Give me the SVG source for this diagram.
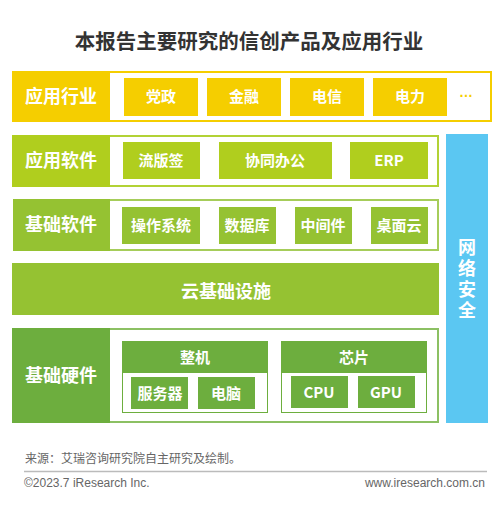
<svg xmlns="http://www.w3.org/2000/svg" width="500" height="521" viewBox="0 0 500 521">
<style>
text{font-family:"Noto Sans CJK SC","Liberation Sans",sans-serif;font-weight:bold;fill:#fff;text-anchor:middle}
.lbl{font-size:18px}
.it{font-size:15px}
.vt{font-size:18px;writing-mode:vertical-rl;text-anchor:start;letter-spacing:3px}
.foot{font-weight:normal;fill:#666;font-size:12px;text-anchor:start}
</style>
<rect width="500" height="521" fill="#fff"/>
<text x="249" y="49" style="font-size:20.5px;fill:#333">本报告主要研究的信创产品及应用行业</text>

<g id="row-industry">
<rect x="13" y="72" width="478" height="49" fill="#fff" stroke="#F5CE00" stroke-width="2"/>
<rect x="12" y="71" width="98" height="51" fill="#F5CE00"/>
<text class="lbl" x="61" y="103">应用行业</text>
<rect x="124" y="78" width="74" height="38" fill="#F5CE00"/><text class="it" x="161" y="102">党政</text>
<rect x="207" y="78" width="74" height="38" fill="#F5CE00"/><text class="it" x="244" y="102">金融</text>
<rect x="290" y="78" width="74" height="38" fill="#F5CE00"/><text class="it" x="327" y="102">电信</text>
<rect x="373" y="78" width="74" height="38" fill="#F5CE00"/><text class="it" x="410" y="102">电力</text>
<text x="466" y="97" style="font-family:'Liberation Sans',sans-serif;font-size:14px;fill:#F5CE00">…</text>
</g>

<g id="row-appsoft">
<rect x="13" y="136" width="425" height="50" fill="#fff" stroke="#B2D235" stroke-width="2"/>
<rect x="12" y="135" width="98" height="52" fill="#B0CE1E"/>
<text class="lbl" x="61" y="167">应用软件</text>
<rect x="123" y="142" width="77" height="37" fill="#B0CE1E"/><text class="it" x="161" y="166">流版签</text>
<rect x="219" y="142" width="113" height="37" fill="#B0CE1E"/><text class="it" x="275" y="166">协同办公</text>
<rect x="350" y="142" width="78" height="37" fill="#B0CE1E"/><text class="it" x="389" y="166">ERP</text>
</g>

<g id="row-basesoft">
<rect x="14" y="200" width="424" height="50" fill="#fff" stroke="#A6CD5A" stroke-width="2"/>
<rect x="13" y="199" width="97" height="52" fill="#95C232"/>
<text class="lbl" x="61" y="231">基础软件</text>
<rect x="122" y="207" width="78" height="37" fill="#95C232"/><text class="it" x="161" y="231">操作系统</text>
<rect x="219" y="207" width="57" height="37" fill="#95C232"/><text class="it" x="247" y="231">数据库</text>
<rect x="295" y="207" width="57" height="37" fill="#95C232"/><text class="it" x="323" y="231">中间件</text>
<rect x="371" y="207" width="57" height="37" fill="#95C232"/><text class="it" x="399" y="231">桌面云</text>
</g>

<g id="row-cloud">
<rect x="12" y="263" width="427" height="52" fill="#95C232"/>
<text class="lbl" x="226" y="298">云基础设施</text>
</g>

<g id="row-hardware">
<rect x="13" y="329" width="425" height="93" fill="#fff" stroke="#8CC063" stroke-width="2"/>
<rect x="12" y="328" width="98" height="95" fill="#6DAE3E"/>
<text class="lbl" x="61" y="382">基础硬件</text>
<rect x="122.5" y="341.5" width="145" height="71" fill="#fff" stroke="#6DAE3E"/>
<rect x="122" y="341" width="146" height="32" fill="#6DAE3E"/>
<text class="it" x="195" y="363">整机</text>
<rect x="131" y="377" width="57" height="32" fill="#6DAE3E"/><text class="it" x="160" y="399">服务器</text>
<rect x="198" y="377" width="57" height="32" fill="#6DAE3E"/><text class="it" x="226" y="399">电脑</text>
<rect x="281.5" y="341.5" width="145" height="71" fill="#fff" stroke="#6DAE3E"/>
<rect x="281" y="341" width="146" height="32" fill="#6DAE3E"/>
<text class="it" x="354" y="363">芯片</text>
<rect x="291" y="376" width="57" height="32" fill="#6DAE3E"/><text class="it" x="319" y="398">CPU</text>
<rect x="358" y="376" width="57" height="32" fill="#6DAE3E"/><text class="it" x="386" y="398">GPU</text>
</g>

<g id="security">
<rect x="446" y="134" width="42" height="289" fill="#5BC7F2"/>
<text class="vt" x="467" y="238">网络安全</text>
</g>

<g id="connectors"></g>

<g id="footer">
<text class="foot" x="25" y="463">来源：艾瑞咨询研究院自主研究及绘制。</text>
<line x1="24" y1="471.5" x2="487" y2="471.5" stroke="#bbb" stroke-width="1.5"/>
<text class="foot" x="24" y="487" style="font-family:'Liberation Sans',sans-serif">©2023.7 iResearch Inc.</text>
<text class="foot" x="485" y="487" style="font-family:'Liberation Sans',sans-serif;text-anchor:end">www.iresearch.com.cn</text>
</g>
</svg>
